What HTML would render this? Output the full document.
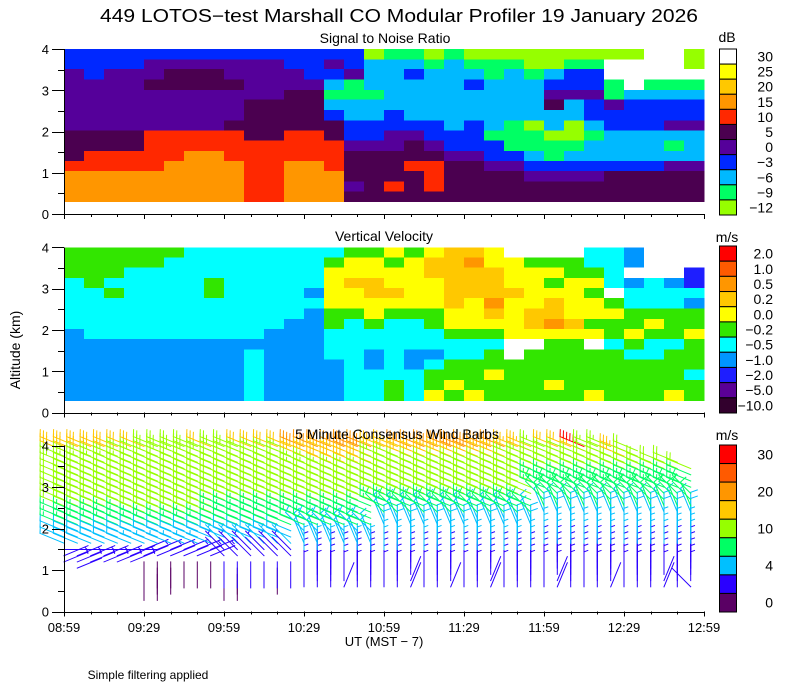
<!DOCTYPE html>
<html><head><meta charset="utf-8"><style>
html,body{margin:0;padding:0;background:#fff;}
svg{display:block;font-family:"Liberation Sans",sans-serif;}
</style></head><body>
<svg id="chart" width="800" height="700" viewBox="0 0 800 700" xmlns="http://www.w3.org/2000/svg">
<text x="399" y="22" font-size="18" text-anchor="middle" textLength="598" lengthAdjust="spacingAndGlyphs">449 LOTOS−test Marshall CO Modular Profiler 19 January 2026</text>
<text x="385" y="43" font-size="14" text-anchor="middle">Signal to Noise Ratio</text>
<text x="384" y="241" font-size="14" text-anchor="middle">Vertical Velocity</text>
<g id="layers"></g>
<text x="397" y="439" font-size="14" text-anchor="middle">5 Minute Consensus Wind Barbs</text>
<text x="727" y="42" font-size="14" text-anchor="middle">dB</text>
<text x="727" y="242" font-size="14" text-anchor="middle">m/s</text>
<text x="727" y="440" font-size="14" text-anchor="middle">m/s</text>
<text x="20" y="350" font-size="14" text-anchor="middle" transform="rotate(-90 20 350)">Altitude (km)</text>
<text x="384" y="646" font-size="13" text-anchor="middle">UT  (MST − 7)</text>
<text x="148" y="679" font-size="12" text-anchor="middle">Simple filtering applied</text>
</svg>
<script>
// ---- data ----
var timeLabels = ["08:59","09:29","09:59","10:29","10:59","11:29","11:59","12:29","12:59"];
var altTicks = [0,1,2,3,4];
var rowEdges = [4.0,3.75,3.51,3.26,3.01,2.77,2.52,2.27,2.03,1.78,1.53,1.29,1.04,0.79,0.55,0.3];
var snrLabels = ["30","25","20","15","10","5","0","−3","−6","−9","−12"];
var snrCodes = "WYAORDPBCGL";
var snrColors = ["#ffffff","#ffff00","#ffc800","#ff9600","#ff2800","#4b0050","#55009a","#0028ff","#00b9ff","#00ff64","#96ff00"];
var snrCols = ["BBPPPPPPDDDROOO","BBBPPPPPDDRROOO","BBPPPPPPDDRROOO","BBPPPPPPDDRROOO","BPPDPPPPRRRROOO","BPDDPPPPRRROOOO","BPDDPPPPRROOOOO","BPDDPPPPRROOOOO","BPPDPPPDRRROOOO","BPPPPDDDDRRRRRR","BPPPPDDDDRRRRRR","BBPPDDDDRRROOOO","BBBPDDDDRRROOOO","BPBCGCBDDRRROOO","BBPGGCCBBPDDDPD","LCCCGCCBBPDDDDD","GCCCCCBBPPDDDRD","GCBCCCCBPDDRDDD","LGCCCCCBBPDRRRD","GCCCCCCCBBPDDDD","LGCBCCCBBBPDDDD","LGGCCCCCGBBPDDD","LGCCCCCGGGBPDDD","LLGCCCCLGGCBPDD","LLCBPDCCLGGBPDD","LGBBPCCLLGCBPDD","LGBBPBBCGCCBPDD","LWWGGPBBCCCBDDD","LWWWCBBBCCCBDDD","WWWGCBBBCCCBDDD","WWWGCBBPCGCPDDD","LLWGCBBPCCCPDDD"];
var vvLabels = ["2.0","1.0","0.5","0.2","0.0","−0.2","−0.5","−1.0","−2.0","−5.0","−10.0"];
var vvCodes = "abcdefghijk";
var vvColors = ["#ff0000","#ff5a00","#ff9600","#ffc800","#ffff00","#32e600","#00ffff","#0096ff","#1e1eff","#5a0096","#32002d"];
var vvCols = ["fffggggghhhhhhh","ffffggggghhhhhh","fffgfgggghhhhhh","ffggggggghhhhhh","ffggggggghhhhhh","fgggggggghhhhhh","ggggggggghhhhhh","gggffgggghhhhhh","ggggggggghhhhhh","ggggggggghggggg","gggggggghhhhhhh","ggggggghhhhhhhh","gggghghhhhhhhhh","gfeeeeffggghhhh","feedeefgggggggg","feeddeefgghhggg","efeedefggggggff","feeeeefggghhggg","eddeeeffgghgffe","ddddddeefggffef","dcdddeeefggfffe","eedddcdefgffeff","weeedeeeewwffff","wfeeeeddewfffff","wfefeddceffffef","wffeeeedeffffff","ggfefeefewffffe","ggggwfeffgfffff","hhwhggffefgffff","wwwgggfefggffff","wwwhggfffgffffe","wwiighffefffgff"];
var windLabels = ["30","","20","","10","","4","","0"];
var windBins = [30,25,20,15,10,7,4,2,0];
var windColors = ["#ff0000","#ff5a00","#ff9600","#ffc800","#96ff00","#00ff64","#00c0ff","#2a00ff","#5a0064"];
var windLevels = [0.45,0.6,0.75,0.9,1.05,1.2,1.35,1.5,1.65,1.8,1.95,2.1,2.25,2.4,2.55,2.7,2.85,3.0,3.15,3.3,3.45,3.6,3.75,3.88,3.98];
var windSpd = [
".....233566899abbbcccdegh","....2233566899abbbcccdegh",".....233566899abbbcccdegg",".....233566899abbbcccdefg",".....233566899abbbcccdeff",".....233566899abbbcccddef",
"...1112345689aabbbbbccdef","...1112345689aabbbbbccdee","....112345689aabbbbbccdde",".....12345689aabbbbbccdde",".....12345689aabbbbbccdde",".....12345689aabbbbbccdef",
"...112234557899abbbbcccde","...112234557899abbbbcccde",".....2234557899abbbbcccdf",".....2234557899abbbbcccdf","....12234557899abbbbcccdf",".....2234557899abbbbccceg",
".22333345567899abbccdegik",".22333345567899abbccdegik",".22333345567899abbccdfhjl",".22333345567899abbccdfhjl",".22333345567899abbccdfhkm",".22333345567899abbccdfhkm",
".223333445566789aabbccegj",".223333445566789aabbccegj",".223333445566789aabbccfhk",".223333445566789aabbccfhk",".223333445566789aabbccfil",".223333445566789aabbccfil",
".223333445566789aabbcchkn",".223333445566789aabbcchkn",".223333445566789aabbccgjm",".223333445566789aabbccgjm",".223333445566789aabbccegj",".223333445566789aabbccegj",
".2233333444556778899abbce",".2233333444556778899abbcf",".2233333444556778899abbcf",".2233333444556778899abcgu",".2233333444556778899abbce",".2233333444556778899abbce",
".2233333444556778899abhj.",".2233333444556778899abbc.",".2233333444556778899ab...",".2233333444556778899ab...",".2233333444556778899ab...",".2233333444556778899a...."];
var windDir = [
".....334DDDDDDDDDDDDDDDDD","....3334DDDDDDDDDDDDDDDDD",".....334DDDDDDDDDDDDDDDDD",".....334DDDDDDDDDDDDDDDDD",".....334DDDDDDDDDDDDDDDDD",".....334DDDDDDDDDDDDDDDDD",
"...88833DDDDDDDDDDDDDDDDD","...88833DDDDDDDDDDDDDDDDD","....8833DDDDDDDDDDDDDDDDD",".....833DDDDDDDDDDDDDDDDD",".....833DDDDDDDDDDDDDDDDD",".....833DDDDDDDDDDDDDDDDD",
"...888EEEDDDDDDDDDDDDDDDD","...888EEEDDDDDDDDDDDDDDDD",".....8EEEDDDDDDDDDDDDDDDD",".....8EEEDDDDDDDDDDDDDDDD","....88EEEDDDDDDDDDDDDDDDD",".....8EEEDDDDDDDDDDDDDDDD",
".0000000FFEDDDDDDDDDDDDDD",".0000000FFEDDDDDDDDDDDDDD",".0000000FFEDDDDDDDDDDDDDD",".1000000FFEDDDDDDDDDDDDDD",".0000000FFEDDDDDDDDDDDDDD",".0000000FFEDDDDDDDDDDDDDD",
".0000000000FFEDDDDDDDDDDD",".0000000000FFEDDDDDDDDDDD",".1100000000FFEDDDDDDDDDDD",".0000000000FFEDDDDDDDDDDD",".0000000000FFEDDDDDDDDDDD",".1000000000FFEDDDDDDDDDDD",
".0000000000FFEDDDDDDDDDDD",".0000000000FFEDDDDDDDDDDD",".1100000000FFEDDDDDDDDDDD",".0000000000FFEDDDDDDDDDDD",".0000000000FFEDDDDDDDDDDD",".0000000000FFEDDDDDDDDDDD",
".000000000000FFEEDDDDDDDD",".110000000000FFEEDDDDDDDD",".000000000000FFEEDDDDDDDD",".000000000000FFEEDDDDDDDD",".000000000000FFEEDDDDDDDD",".100000000000FFEEDDDDDDDD",
".000000000000FFEEDDDDDDDD",".000000000000FFEEDDDDDDDD",".000000000000FFEEDDDDDDDD",".110000000000FFEEDDDDDDDD",".000000000000FFEEDDDDDDDD",".E00000000000FFEEDDDDDDDD"];

// ---- layout ----
var X0 = 64, X1 = 704;
var panels = [{name:"snr", y0:214, y4:49},{name:"vv", y0:412.7, y4:247.3},{name:"wind", y0:611.7, y4:445.7}];
function xScale(frac){ return X0 + frac*(X1-X0); }
function yScale(p, km){ return p.y0 + (p.y4-p.y0)*km/4; }
var NS = "http://www.w3.org/2000/svg";
var root = document.getElementById("layers");
function mk(tag, attrs, parent){ var e=document.createElementNS(NS,tag); for(var k in attrs) e.setAttribute(k, attrs[k]); (parent||root).appendChild(e); return e; }

function drawHeat(p, cols, codes, colors, nm){
  var g = mk("g", {"shape-rendering":"crispEdges"});
  
  
  var n = cols.length;
  for (var c=0;c<n;c++){
    var s = cols[c];
    var xa = xScale(c/n), xb = xScale((c+1)/n);
    for (var r=0;r<s.length;r++){
      var idx = codes.indexOf(s[r]);
      var col = idx>=0 ? colors[idx] : "#ffffff";
      var ya = yScale(p, rowEdges[r]), yb = yScale(p, rowEdges[r+1]);
      var rc = mk("rect", {x:xa.toFixed(2), y:ya.toFixed(2), width:(xb-xa+0.6).toFixed(2), height:(yb-ya+0.6).toFixed(2), fill:col}, g);
      
      
    }
  }
}
drawHeat(panels[0], snrCols, snrCodes, snrColors, "snr");
drawHeat(panels[1], vvCols, vvCodes, vvColors, "vv");

// wind barbs
(function(){
  var p = panels[2];
  var g = mk("g", {"stroke-width":"1","fill":"none","stroke-linecap":"square"});
  
  
  var n = windSpd.length;
  for (var c=0;c<n;c++){
    var sx = xScale(c/n);
    for (var l=0;l<windLevels.length;l++){
      var sc = windSpd[c][l], dc = windDir[c][l];
      if (!sc || sc==="." || !dc || dc===".") continue;
      var spd = parseInt(sc,36), dir = parseInt(dc,16)*22.5*Math.PI/180;
      var ci = windBins.length-1;
      for (var b=0;b<windBins.length;b++){ if (spd>=windBins[b]){ ci=b; break; } }
      var color = windColors[ci];
      var sy = yScale(p, windLevels[l]);
      var L = 26, ux = Math.sin(dir), uy = -Math.cos(dir);
      var ex = sx+ux*L, ey = sy+uy*L;
      var d = "M"+sx.toFixed(1)+" "+sy.toFixed(1)+"L"+ex.toFixed(1)+" "+ey.toFixed(1);
      var th = 70*Math.PI/180;
      var tx = ux*Math.cos(th)-uy*Math.sin(th), ty = ux*Math.sin(th)+uy*Math.cos(th);
      var full = Math.floor(spd/5), half = (spd%5)>=2.5 ? 1 : 0;
      var pos = 0;
      for (var f=0; f<full; f++){
        var bx = ex-ux*pos, by = ey-uy*pos;
        d += "M"+bx.toFixed(1)+" "+by.toFixed(1)+"l"+(tx*7).toFixed(1)+" "+(ty*7).toFixed(1);
        pos += 3.5;
      }
      if (half){
        if (full===0) pos = 3.5;
        var hx = ex-ux*pos, hy = ey-uy*pos;
        d += "M"+hx.toFixed(1)+" "+hy.toFixed(1)+"l"+(tx*4).toFixed(1)+" "+(ty*4).toFixed(1);
      }
      var pe = mk("path", {d:d, stroke:color}, g);
      
      
    }
  }
})();

// axes
panels.forEach(function(p){
  var g = mk("g", {stroke:"#000","stroke-width":"1","shape-rendering":"crispEdges"});
  
  
  mk("line", {x1:52, y1:Math.round(p.y0)+0.5, x2:X1, y2:Math.round(p.y0)+0.5}, g);
  mk("line", {x1:X0+0.5, y1:p.y4, x2:X0+0.5, y2:p.y0+4}, g);
  for (var k=0;k<=8;k++){
    var y = yScale(p, k*0.5);
    var len = (k%2===0) ? 12 : 6;
    mk("line", {x1:X0-len, y1:Math.round(y)+0.5, x2:X0, y2:Math.round(y)+0.5}, g);
  }
  for (var m=0;m<=24;m++){
    var x = Math.round(xScale(m/24))+0.5;
    mk("line", {x1:x, y1:p.y0, x2:x, y2:p.y0+((m%3===0)?5:3)}, g);
  }
  altTicks.forEach(function(a){
    var t = mk("text", {x:49, y:(yScale(p,a)+5).toFixed(1), "font-size":"13", "text-anchor":"end", stroke:"none", fill:"#000"});
    
    
    t.textContent = a;
  });
});
timeLabels.forEach(function(lb,i){
  var t = mk("text", {x:xScale(i/8).toFixed(1), y:632, "font-size":"13", "text-anchor":"middle"});
  
  
  t.textContent = lb;
});

// colorbars
function colorbar(y0, y1, colors, labels, nm){
  var g = mk("g", {});
  
  
  var n = colors.length, h = (y1-y0)/n;
  for (var i=0;i<n;i++){
    var r = mk("rect", {x:719.5, y:(y0+i*h).toFixed(2), width:17, height:h.toFixed(2), fill:colors[i], stroke:"#000","stroke-width":"1"}, g);
    
    
    if (labels[i]){
      var t = mk("text", {x:773, y:(y0+i*h+h/2+5).toFixed(1), "font-size":"14", "text-anchor":"end"}, g);
      
      
      t.textContent = labels[i];
    }
  }
}
colorbar(49, 215, snrColors, snrLabels, "snr");
colorbar(246, 413, vvColors, vvLabels, "vv");
colorbar(445, 612, windColors, windLabels, "wind");
</script>
</body></html>
